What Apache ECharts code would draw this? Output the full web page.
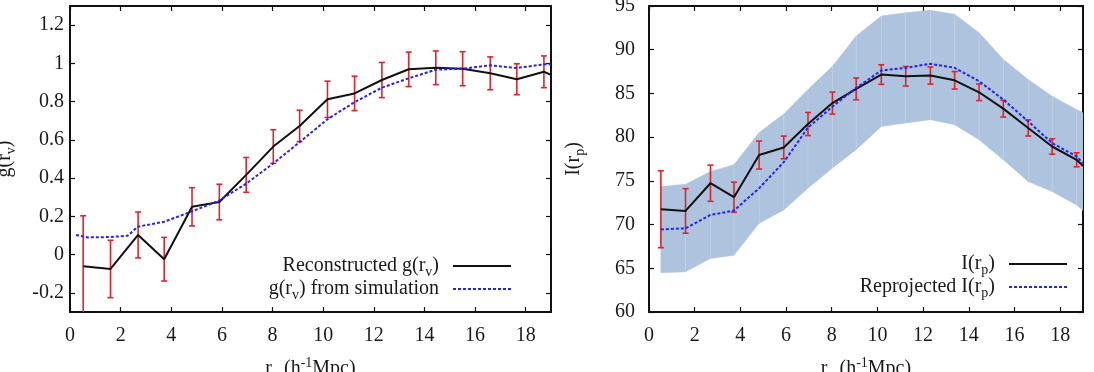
<!DOCTYPE html>
<html><head><meta charset="utf-8">
<script src="https://cdn.jsdelivr.net/npm/echarts@6/dist/echarts.min.js"></script>
<style>html,body{margin:0;padding:0;background:#fff}#c{width:1094px;height:372px}</style>
</head><body><div id="c"></div>
<script>
// ---------- data ----------
const rBins = [0.52,1.6,2.69,3.72,4.82,5.9,6.96,8.03,9.07,10.17,11.24,12.32,13.38,14.45,15.51,16.6,17.65,18.72];
const rEdge = [19];
// left panel: g(r_v)
const gRecon = [-0.061,-0.075,0.103,-0.024,0.25,0.275,0.417,0.565,0.673,0.812,0.843,0.913,0.969,0.977,0.972,0.948,0.917,0.956,0.94];
const gErr   = [0.264,0.15,0.12,0.114,0.10,0.093,0.091,0.088,0.082,0.095,0.09,0.092,0.09,0.088,0.089,0.086,0.081,0.083];
const gSimX  = [0.24,0.7,1.6,2.28,2.68,3.72,4.82,5.88,6.97,8.02,9.05,10.17,11.25,12.32,13.38,14.45,15.5,16.6,17.65,18.73,19];
const gSim   = [0.103,0.09,0.092,0.099,0.146,0.172,0.226,0.282,0.372,0.476,0.586,0.708,0.798,0.873,0.922,0.967,0.972,0.99,0.976,0.995,0.995];
// right panel: I(r_p)
const iObs    = [71.75,71.56,74.73,73.13,77.95,78.82,81.5,83.9,85.52,87.16,86.97,87.05,86.5,85.13,83.26,81.05,78.93,77.41,76.7];
const iErr    = [4.4,2.55,2.07,1.72,1.6,1.3,1.32,1.26,1.25,1.12,1.12,0.98,1.0,0.95,0.96,0.92,0.88,0.8];
const iRepro  = [69.45,69.57,71.1,71.6,74.16,77.14,81.1,83.5,85.63,87.62,87.93,88.39,87.93,86.4,84.3,81.8,79.32,77.79,77.0];
const iBandLo = [64.48,64.6,66.13,66.5,70.14,71.67,74.16,76.46,78.56,81.23,81.62,82.0,81.43,79.7,77.41,74.92,73.77,72.24,71.6];
const iBandHi = [74.35,74.6,76.07,76.84,80.54,82.65,85.44,88.1,91.56,93.85,94.24,94.5,94.05,91.95,88.9,86.6,84.67,83.15,82.8];
// ticks
const xTicks = [0,2,4,6,8,10,12,14,16,18];
const gTicks = [-0.2,0,0.2,0.4,0.6,0.8,1,1.2];
const iTicks = [60,65,70,75,80,85,90,95];
// ----------------------------

const FONT = 'Liberation Serif';
const TXT = '#1a1a1a';
const RED = '#e3232b';
const BLUE = '#2424f0';
const BAND = '#adc3de';
const rLine = rBins.concat(rEdge);

const rich = {
  n: {fontFamily: FONT, fontSize: 20, color: TXT},
  s: {fontFamily: FONT, fontSize: 14, color: TXT, padding: [12, 0, 0, 0]},
  p: {fontFamily: FONT, fontSize: 14, color: TXT, padding: [0, 0, 12, 0]},
  g: {width: 9}
};
const names = {
  'gRecon': '{n|Reconstructed g(r}{s|v}{n|)}{g|}',
  'gSim': '{n|g(r}{s|v}{n|) from simulation}{g|}',
  'iObs': '{n|I(r}{s|p}{n|)}{g|}',
  'iRepro': '{n|Reprojected I(r}{s|p}{n|)}{g|}'
};

function xAxes(gi) {
  const base = {
    type: 'value', gridIndex: gi, min: 0, max: 19,
    splitLine: {show: false},
    axisLine: {show: true, onZero: false, lineStyle: {color: '#111', width: 2}},
    axisTick: {show: true, inside: true, length: 5, customValues: xTicks, lineStyle: {color: '#111', width: 1.2}}
  };
  return [
    Object.assign({}, base, {
      position: 'bottom',
      axisLabel: {customValues: xTicks, margin: 14, fontFamily: FONT, fontSize: 20, color: TXT},
      name: '{n|r}{s|' + (gi === 0 ? 'v' : 'p') + '}{n| (h}{p|-1}{n|Mpc)}',
      nameLocation: 'middle', nameGap: 44,
      nameTextStyle: {fontFamily: FONT, fontSize: 20, color: TXT, rich: rich}
    }),
    Object.assign({}, base, {position: 'top', axisLabel: {show: false}})
  ];
}
function yAxes(gi, min, max, ticks, margin, name, gap) {
  const base = {
    type: 'value', gridIndex: gi, min: min, max: max,
    splitLine: {show: false},
    axisLine: {show: true, onZero: false, lineStyle: {color: '#111', width: 2}},
    axisTick: {show: true, inside: true, length: 5, customValues: ticks, lineStyle: {color: '#111', width: 1.2}}
  };
  return [
    Object.assign({}, base, {
      position: 'left',
      axisLabel: {customValues: ticks, margin: margin, fontFamily: FONT, fontSize: 20, color: TXT},
      name: name, nameLocation: 'middle', nameGap: gap, nameRotate: 90,
      nameTextStyle: {fontFamily: FONT, fontSize: 20, color: TXT, rich: rich}
    }),
    Object.assign({}, base, {position: 'right', axisLabel: {show: false}})
  ];
}

function errData(xs, ys, es) {
  return xs.map((x, i) => [x, ys[i] - es[i], ys[i] + es[i]]);
}
function errRender(params, api) {
  const x = api.value(0);
  const a = api.coord([x, api.value(1)]);
  const b = api.coord([x, api.value(2)]);
  const w = 3;
  const st = {stroke: RED, lineWidth: 1.6};
  return {type: 'group', children: [
    {type: 'line', shape: {x1: a[0], y1: a[1], x2: b[0], y2: b[1]}, style: st},
    {type: 'line', shape: {x1: a[0] - w, y1: a[1], x2: a[0] + w, y2: a[1]}, style: st},
    {type: 'line', shape: {x1: b[0] - w, y1: b[1], x2: b[0] + w, y2: b[1]}, style: st}
  ]};
}
function bandRender(params, api) {
  const i = params.dataIndex;
  if (i >= rLine.length - 1) return null;
  const p1 = api.coord([rLine[i], iBandLo[i]]);
  const p2 = api.coord([rLine[i], iBandHi[i]]);
  const p3 = api.coord([rLine[i + 1], iBandHi[i + 1]]);
  const p4 = api.coord([rLine[i + 1], iBandLo[i + 1]]);
  const children = [
    {type: 'polygon', shape: {points: [p1, p2, p3, p4]}, style: {fill: BAND, stroke: BAND, lineWidth: 0.5}}
  ];
  if (i > 0) children.push({type: 'line', shape: {x1: p1[0], y1: p1[1], x2: p2[0], y2: p2[1]},
    style: {stroke: 'rgba(255,255,255,0.2)', lineWidth: 1}, z2: 5});
  return {type: 'group', children: children};
}

const chart = echarts.init(document.getElementById('c'), null, {renderer: 'canvas'});
const xa = xAxes(0).concat(xAxes(1));
const ya = yAxes(0, -0.3, 1.3, gTicks, 6, '{n|g(r}{s|v}{n|)}', 52)
  .concat(yAxes(1, 60, 95, iTicks, 14, '{n|I(r}{s|p}{n|)}', 62));

const legendBase = {
  orient: 'vertical', align: 'right', padding: 0,
  itemWidth: 58, itemHeight: 10, itemGap: 0, formatter: n => names[n],
  itemStyle: {color: 'rgba(0,0,0,0)', borderWidth: 0, opacity: 0},
  textStyle: {fontFamily: FONT, fontSize: 20, color: TXT, rich: rich}, selectedMode: false
};

chart.setOption({
  animation: false,
  backgroundColor: '#fff',
  textStyle: {fontFamily: FONT},
  grid: [
    {left: 70, right: 543, top: 6, bottom: 60, containLabel: false, outerBoundsMode: 'none'},
    {left: 649, right: 11, top: 6, bottom: 60, containLabel: false, outerBoundsMode: 'none'}
  ],
  xAxis: xa,
  yAxis: ya,
  legend: [
    Object.assign({}, legendBase, {data: ['gRecon', 'gSim'], right: 582, top: 256}),
    Object.assign({}, legendBase, {data: ['iObs', 'iRepro'], right: 26, top: 254})
  ],
  series: [
    {type: 'custom', name: 'gErrBars', xAxisIndex: 0, yAxisIndex: 0, clip: true, z: 3,
     renderItem: errRender, encode: {x: 0, y: [1, 2]}, data: errData(rBins, gRecon, gErr)},
    {type: 'line', name: 'gRecon', xAxisIndex: 0, yAxisIndex: 0, symbol: 'none', z: 4,
     lineStyle: {color: '#111', width: 2}, itemStyle: {color: '#111'},
     data: rLine.map((x, i) => [x, gRecon[i]])},
    {type: 'line', name: 'gSim', xAxisIndex: 0, yAxisIndex: 0, symbol: 'none', z: 5,
     lineStyle: {color: BLUE, width: 2, type: [3, 2]}, itemStyle: {color: BLUE},
     data: gSimX.map((x, i) => [x, gSim[i]])},

    {type: 'custom', name: 'iBand', xAxisIndex: 2, yAxisIndex: 2, clip: true, z: 1,
     renderItem: bandRender, encode: {x: 0, y: [1, 2]}, data: rLine.map((x, i) => [x, iBandLo[i], iBandHi[i]])},
    {type: 'custom', name: 'iErrBars', xAxisIndex: 2, yAxisIndex: 2, clip: true, z: 3,
     renderItem: errRender, encode: {x: 0, y: [1, 2]}, data: errData(rBins, iObs, iErr)},
    {type: 'line', name: 'iObs', xAxisIndex: 2, yAxisIndex: 2, symbol: 'none', z: 4,
     lineStyle: {color: '#111', width: 2}, itemStyle: {color: '#111'},
     data: rLine.map((x, i) => [x, iObs[i]])},
    {type: 'line', name: 'iRepro', xAxisIndex: 2, yAxisIndex: 2, symbol: 'none', z: 5,
     lineStyle: {color: BLUE, width: 2, type: [3, 2]}, itemStyle: {color: BLUE},
     data: rLine.map((x, i) => [x, iRepro[i]])}
  ]
});
</script></body></html>
